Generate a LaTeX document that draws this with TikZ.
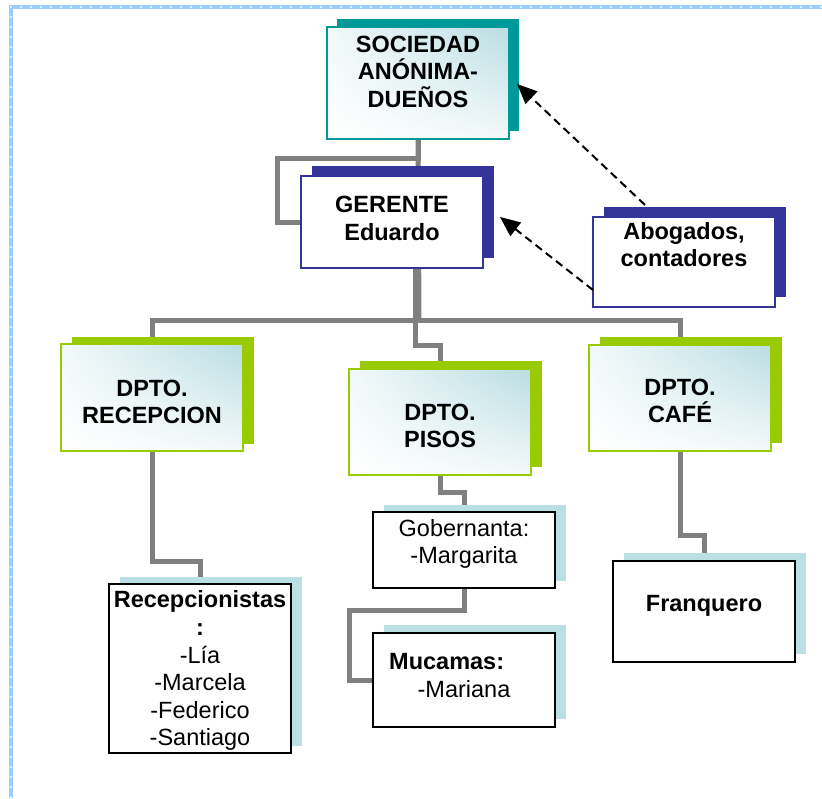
\documentclass[tikz,border=0pt]{standalone}
\usepackage{fontspec}
\setmainfont{Liberation Sans}
\usetikzlibrary{arrows.meta,shadings}
\definecolor{tealc}{HTML}{009999}
\definecolor{navyc}{HTML}{333399}
\definecolor{greenc}{HTML}{99CC00}
\definecolor{lbshad}{HTML}{BBE0E3}
\definecolor{grayc}{HTML}{808080}
\definecolor{bordc}{HTML}{99CCFF}
\definecolor{gradUR}{HTML}{B9DDE2}
\definecolor{gradUL}{HTML}{F2F9FA}
\definecolor{gradLR}{HTML}{F3F9FA}
\pgfdeclarelayer{conn}
\pgfdeclarelayer{shad}
\pgfsetlayers{conn,shad,main}
\newcommand\fsz{\fontsize{23.5pt}{27.5pt}\selectfont}
\newcommand\shadowof[4]{\fill[#2] ([shift={(#3,#4)}]#1.south west) rectangle ([shift={(#3,#4)}]#1.north east);}
\begin{document}
\begin{tikzpicture}[x=1pt,y=-1pt,
  box/.style={rectangle, inner sep=0pt, outer sep=0pt, minimum width=182pt},
  gradbox/.style={box, upper left=gradUL, upper right=gradUR, lower left=white, lower right=gradLR},
  socbox/.style={gradbox, draw=tealc, line width=1.5pt},
  navybox/.style={box, fill=white, draw=navyc, line width=1.5pt},
  dptbox/.style={gradbox, draw=greenc, line width=2pt},
  blkbox/.style={box, fill=white, draw=black, line width=2pt},
  txt/.style={anchor=base, inner sep=0pt, font=\fsz},
  txtb/.style={anchor=base, inner sep=0pt, font=\fsz\bfseries},
  conn/.style={draw=grayc, line width=5pt, line join=miter},
  dasharrow/.style={draw=black, line width=2pt, dash pattern=on 8pt off 5pt, -{Triangle[length=20pt,width=17pt]}}
]
\useasboundingbox (0,0) rectangle (822,798);

% boxes
\node[socbox, minimum height=112pt] (soc) at (418,83) {};
\node[navybox, minimum height=92pt] (ger) at (392,222) {};
\node[navybox, minimum height=90pt] (abo) at (684,262) {};
\node[dptbox, minimum height=107pt] (rec) at (152,397.5) {};
\node[dptbox, minimum height=106pt] (pis) at (440,422) {};
\node[dptbox, minimum height=106pt] (caf) at (680,398) {};
\node[blkbox, minimum height=169pt] (recp) at (200,668.5) {};
\node[blkbox, minimum height=76pt] (gob) at (464,550) {};
\node[blkbox, minimum height=94pt] (muc) at (464,680) {};
\node[blkbox, minimum height=101pt] (fra) at (704,611.5) {};

% texts
\node[txtb] (soc1) at (418,52) {SOCIEDAD};
\node[txtb] (soc2) at (418,79.5) {ANÓNIMA-};
\node[txtb] (soc3) at (418,107) {DUEÑOS};
\node[txtb] (ger1) at (392,212) {GERENTE};
\node[txtb] (ger2) at (392,240) {Eduardo};
\node[txtb] (abo1) at (684,239.5) {Abogados,};
\node[txtb] (abo2) at (684,266) {contadores};
\node[txtb] (rec1) at (152,396) {DPTO.};
\node[txtb] (rec2) at (152,423.5) {RECEPCION};
\node[txtb] (pis1) at (440,420) {DPTO.};
\node[txtb] (pis2) at (440,447.5) {PISOS};
\node[txtb] (caf1) at (680,395) {DPTO.};
\node[txtb] (caf2) at (680,422.5) {CAFÉ};
\node[txtb] (recp1) at (200,607.5) {Recepcionistas};
\node[txtb] (recp2) at (200,635) {:};
\node[txt] (recp3) at (200,663) {-Lía};
\node[txt] (recp4) at (200,690.5) {-Marcela};
\node[txt] (recp5) at (200,718) {-Federico};
\node[txt] (recp6) at (200,745.5) {-Santiago};
\node[txt] (gob1) at (464,536.5) {Gobernanta:};
\node[txt] (gob2) at (464,563.5) {-Margarita};
\node[txtb, anchor=base west] (muc1) at (389,669) {Mucamas:};
\node[txt] (muc2) at (464,697) {-Mariana};
\node[txtb] (fra1) at (704,611.5) {Franquero};

% shadows
\begin{pgfonlayer}{shad}
\shadowof{soc}{tealc}{10}{-8}
\shadowof{ger}{navyc}{11}{-10.5}
\shadowof{abo}{navyc}{11}{-10.5}
\shadowof{rec}{greenc}{10.5}{-7.5}
\shadowof{pis}{greenc}{11}{-8}
\shadowof{caf}{greenc}{11}{-8}
\shadowof{recp}{lbshad}{11}{-7.5}
\shadowof{gob}{lbshad}{11}{-7.5}
\shadowof{muc}{lbshad}{11}{-8}
\shadowof{fra}{lbshad}{11}{-8}
\end{pgfonlayer}

% connectors
\begin{pgfonlayer}{conn}
\fill[white] (0,0) rectangle (822,798);
\draw[bordc, line width=4pt] (11,798) -- (11,7) -- (822,7);
\draw[white, opacity=.7, line width=1.5pt, dash pattern=on 2pt off 8pt] (11,798) -- (11,7) -- (822,7);
\coordinate (barmid) at (419,320);
\coordinate (pisbend) at (415,345);
\draw[conn] (soc.south) |- (277,158) |- (ger.west);
\draw[conn] (soc.south) -- (barmid);
\draw[conn] (rec.north) -- (rec.north |- barmid) -- (caf.north |- barmid) -- (caf.north);
\draw[conn] (ger.south -| pisbend) -- (pisbend) -| (pis.north);
\draw[conn] (rec.south) -- ++(0,110) -| (recp.north);
\draw[conn] (pis.south) -- ++(0,17) -| (gob.north);
\draw[conn] (gob.south) -- ++(0,22) -| ([xshift=-24pt]muc.west) -- (muc.west);
\draw[conn] (caf.south) -- ++(0,84) -| (fra.north);
\end{pgfonlayer}

% dashed arrows
\coordinate (a1s) at (645,205);
\coordinate (a1e) at (517,84);
\coordinate (a2s) at (593,290);
\coordinate (a2e) at (500,217);
\draw[dasharrow] (a1s) -- (a1e);
\draw[dasharrow] (a2s) -- (a2e);
\end{tikzpicture}
\end{document}
